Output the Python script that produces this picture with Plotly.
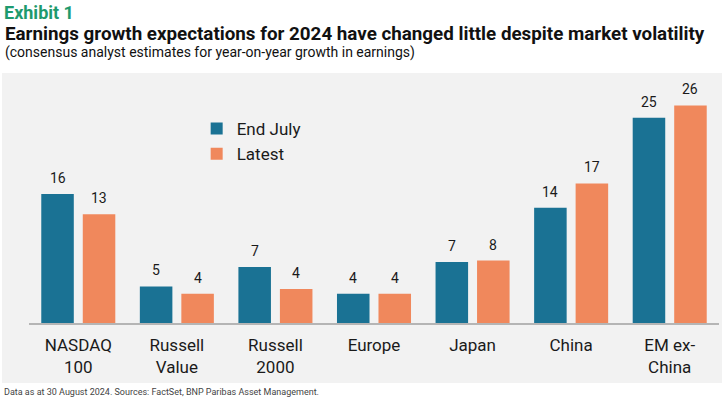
import plotly.graph_objects as go

categories = ["NASDAQ<br>100", "Russell<br>Value", "Russell<br>2000", "Europe", "Japan", "China", "EM ex-<br>China"]
end_july = [15.9, 4.5, 6.9, 3.6, 7.5, 14.2, 25.3]
latest = [13.4, 3.6, 4.2, 3.6, 7.7, 17.2, 26.8]
end_july_labels = ["16", "5", "7", "4", "7", "14", "25"]
latest_labels = ["13", "4", "4", "4", "8", "17", "26"]

TEAL = "#1a7294"
ORANGE = "#f0885c"
GREEN = "#1e9a6e"
PANEL = "#f2f2f2"
FONT = "Roboto, sans-serif"

BARGAP = 0.158
GROUPGAP = 0.216

fig = go.Figure()
fig.add_trace(go.Bar(x=list(range(len(categories))), y=end_july, name="End July",
                     marker=dict(color=TEAL, line=dict(width=0))))
fig.add_trace(go.Bar(x=list(range(len(categories))), y=latest, name="Latest",
                     marker=dict(color=ORANGE, line=dict(width=0))))

slot = (1 - BARGAP) / 2
annotations = []
for i in range(len(categories)):
    for vals, labs, sgn in ((end_july, end_july_labels, -1), (latest, latest_labels, 1)):
        annotations.append(dict(x=i + sgn * slot / 2, y=vals[i], xref="x", yref="y",
                                text=labs[i], showarrow=False, yanchor="bottom", yshift=6,
                                font=dict(family=FONT, size=14, color="#1a1a1a")))

H = 250.0
W = 690.0
def py(px):
    return (323 - px) / H

annotations += [
    dict(text="<b>Exhibit 1</b>", x=-27/W, y=py(12), xref="paper", yref="paper",
         xanchor="left", yanchor="middle", showarrow=False,
         font=dict(family=FONT, size=18, color=GREEN)),
    dict(text="<b>Earnings growth expectations for 2024 have changed little despite market volatility</b>",
         x=-26/W, y=py(34), xref="paper", yref="paper",
         xanchor="left", yanchor="middle", showarrow=False,
         font=dict(family=FONT, size=18.8, color="#111111")),
    dict(text="(consensus analyst estimates for year-on-year growth in earnings)",
         x=-26/W, y=py(53), xref="paper", yref="paper",
         xanchor="left", yanchor="middle", showarrow=False,
         font=dict(family=FONT, size=14, color="#111111")),
    dict(text="Data as at 30 August 2024. Sources: FactSet, BNP Paribas Asset Management.",
         x=-27/W, y=py(392), xref="paper", yref="paper",
         xanchor="left", yanchor="middle", showarrow=False,
         font=dict(family=FONT, size=9, color="#444444")),
]

fig.update_layout(
    width=725, height=400,
    margin=dict(l=29, r=6, t=73, b=77),
    paper_bgcolor="white",
    plot_bgcolor=PANEL,
    barmode="group",
    bargap=BARGAP,
    bargroupgap=GROUPGAP,
    font=dict(family=FONT, color="#1a1a1a"),
    showlegend=True,
    legend=dict(x=0.243, y=py(111), xanchor="left", yanchor="top",
                bgcolor="rgba(0,0,0,0)", font=dict(family=FONT, size=17, color="#1a1a1a"),
                itemwidth=30, tracegroupgap=0),
    annotations=annotations,
    shapes=[dict(type="rect", xref="paper", yref="paper",
                 x0=-27/W, x1=1 + 3/W, y0=py(383), y1=1,
                 fillcolor=PANEL, line=dict(width=0), layer="below")],
    xaxis=dict(tickmode="array", tickvals=list(range(len(categories))), ticktext=categories,
               range=[-0.5, len(categories) - 0.5],
               showline=True, linecolor="#b5b5b5", linewidth=1.5,
               ticks="", showgrid=False, zeroline=False, ticklabelstandoff=6,
               tickfont=dict(family=FONT, size=17, color="#1a1a1a")),
    yaxis=dict(range=[0, 30.8], visible=False, showgrid=False, zeroline=False),
)

fig.write_html("out.html", config={"displayModeBar": False},
               post_script="document.body.style.margin='0';document.body.style.padding='0';")
